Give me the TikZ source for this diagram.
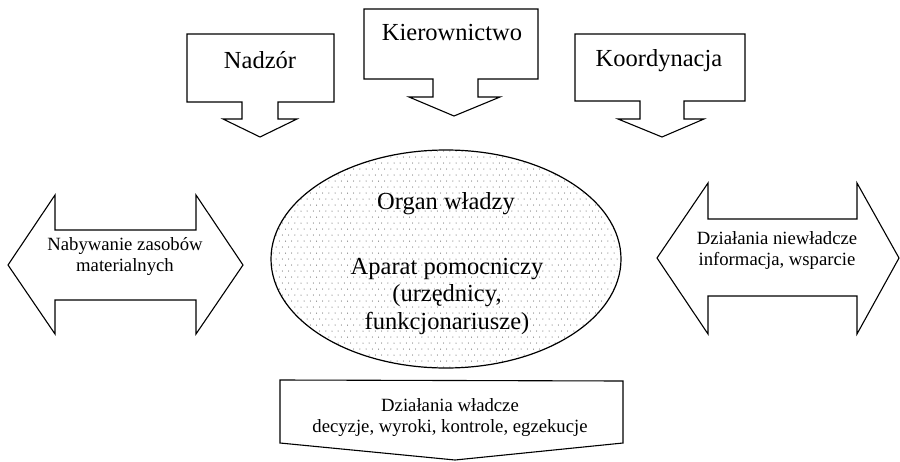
\documentclass[tikz,border=0pt]{standalone}
\usepackage{fontspec}
\setmainfont{Liberation Serif}
\begin{document}
\begin{tikzpicture}[x=1pt,y=-1pt,
  outline/.style={draw=black,line width=1.1pt,line join=miter,fill=white},
  bigtext/.style={font=\fontsize{24.5}{27.5}\selectfont,align=center,inner sep=0pt},
  smalltext/.style={font=\fontsize{18.7}{21}\selectfont,align=center,inner sep=0pt}]
\useasboundingbox (0,0) rectangle (900,461);

% top callouts pointing down
\draw[outline] (187,34) -- (334,34) -- (334,102) -- (278,102) -- (278,119) -- (297,119)
  -- (260,137) -- (223,119) -- (242,119) -- (242,102) -- (187,102) -- cycle;
\draw[outline] (364,9) -- (538,9) -- (538,79) -- (478,79) -- (478,97) -- (500,97)
  -- (454,116) -- (409,97) -- (433,97) -- (433,79) -- (364,79) -- cycle;
\draw[outline] (575,34) -- (745,34) -- (745,101) -- (684,101) -- (684,119) -- (704,119)
  -- (662,137) -- (618,119) -- (640,119) -- (640,101) -- (575,101) -- cycle;

\node[bigtext] (nadzor) at (260,60) {Nadzór};
\node[bigtext] (kier) at (452,33) {Kierownictwo};
\node[bigtext] (koord) at (659,61) {Koordynacja};

% side double arrows
\draw[outline] (8,265) -- (55,195) -- (55,230) -- (196,230) -- (196,195) -- (243,265)
  -- (196,334) -- (196,300) -- (55,300) -- (55,334) -- cycle;
\draw[outline] (657,258) -- (708,183) -- (708,219) -- (857,219) -- (857,183) -- (899,258)
  -- (857,334) -- (857,296) -- (708,296) -- (708,334) -- cycle;

\node[smalltext] (zasoby) at (125,257) {Nabywanie zasobów\\materialnych};
\node[smalltext] (niewladcze) at (777,250) {Działania niewładcze\\informacja, wsparcie};

% central ellipse with dotted fill
\coordinate (c) at (446,259);
\begin{scope}
  \clip (c) ellipse [x radius=175, y radius=109];
  \fill[white] (c) ellipse [x radius=175, y radius=109];
  \foreach \j in {0,...,37} {
    \foreach \i in {0,...,59} {
      \pgfmathsetmacro{\xx}{270+6.2*\i+3.1*mod(\j,2)}
      \fill[black!75] (\xx,151+6*\j) circle (0.5pt);
    }
  }
\end{scope}
\draw[line width=1.2pt] (c) ellipse [x radius=175, y radius=109];

\node[bigtext] (organ) at (446,204) {Organ władzy};
\node[bigtext] (aparat) at (447,296) {Aparat pomocniczy\\(urzędnicy,\\funkcjonariusze)};

% bottom box
\draw[outline] (280,380) -- (623,381) -- (623,443) -- (455,460) -- (280,443) -- cycle;
\node[smalltext] (wladcze) at (450,418) {Działania władcze\\decyzje, wyroki, kontrole, egzekucje};
\end{tikzpicture}
\end{document}
